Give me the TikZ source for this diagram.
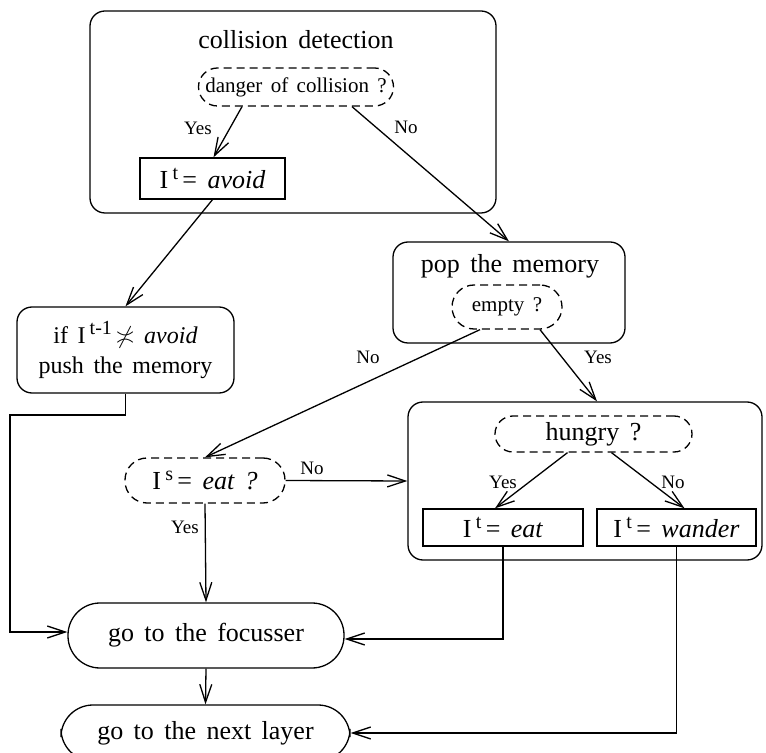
\documentclass[tikz,border=0pt]{standalone}
\usepackage{fontspec}
\setmainfont{Liberation Serif}[WordSpace=1.6]
\usetikzlibrary{arrows.meta}
\newcommand{\upidx}[1]{\,\raisebox{0.8ex}{\fontsize{10}{10}\selectfont #1}\,}

\begin{document}
\begin{tikzpicture}[x=0.5pt,y=-0.5pt,line width=0.65pt,
  >={Straight Barb[length=9pt,width=6pt]},
  every node/.style={inner sep=0pt,font=\fontsize{13}{15}\selectfont},
  group/.style={draw,rounded corners=7.5pt},
  ask/.style={draw,dash pattern=on 4pt off 2.5pt,font=\fontsize{10.5}{12}\selectfont},
  act/.style={draw},
  term/.style={draw,rounded corners=16pt},
  lab/.style={font=\fontsize{9.5}{11}\selectfont}]
\useasboundingbox (0,0) rectangle (766,753);

\node[group,minimum width=203pt,minimum height=101pt] (collbox) at (293,112) {};
\node (colltxt) at (296,40) {collision detection};
\node[ask,rounded corners=9.5pt,minimum width=97.5pt,minimum height=19pt] (danger) at (296,87) {danger of collision ?};
\node[act,minimum width=72.5pt,minimum height=20.5pt] (avoid) at (212.5,178.5) {I\upidx{t}= \textit{avoid}};

\node[group,minimum width=108.5pt,minimum height=43pt,align=center,
  font=\fontsize{12}{15}\selectfont] (push) at (125.5,350)
  {if I\upidx{t-1}$\not\asymp$ \textit{avoid}\\push the memory};

\node[group,minimum width=116pt,minimum height=50.5pt] (popbox) at (509,292.5) {};
\node (poptxt) at (510,266) {pop the memory};
\node[ask,rounded corners=11pt,minimum width=55pt,minimum height=22pt] (empty) at (507,307) {empty ?};

\node[ask,rounded corners=11pt,minimum width=80pt,minimum height=22.5pt,
  font=\fontsize{13}{15}\selectfont] (iseat) at (205,480.5) {I\upidx{s}= \textit{eat ?}};

\node[group,minimum width=177pt,minimum height=79pt] (hungrybox) at (585,481) {};
\node[ask,rounded corners=9pt,minimum width=98.5pt,minimum height=18pt,
  font=\fontsize{13}{15}\selectfont] (hungry) at (593.5,434) {hungry ?};
\node[act,minimum width=80pt,minimum height=18.5pt] (eat) at (503,527.5) {I\upidx{t}= \textit{eat}};
\node[act,minimum width=79.5pt,minimum height=18.5pt] (wander) at (676.5,527.5) {I\upidx{t}= \textit{wander}};

\node[term,minimum width=138pt,minimum height=32.5pt] (focus) at (206,635.5) {go to the focusser};
\node[term,minimum width=144.5pt,minimum height=28pt] (next) at (205.5,733) {go to the next layer};

\coordinate (bend) at (10,415);

\draw[->] ([xshift=-27pt]danger.south) -- ([xshift=0.5pt]avoid.north);
\draw[->] ([xshift=28pt]danger.south) -- (popbox.north);
\draw[->] (avoid.south) -- (push.north);
\draw[->] ([xshift=-13.5pt]empty.south) -- (iseat.north);
\draw[->] ([xshift=16.5pt]empty.south) -- ([xshift=6pt]hungrybox.north);
\draw[->] (iseat.east) -- (hungrybox.west);
\draw[->] (iseat.south) -- (focus.north);
\draw[->] ([xshift=-13pt]hungry.south) -- ([xshift=-4pt]eat.north);
\draw[->] ([xshift=9pt]hungry.south) -- ([xshift=4pt]wander.north);
\draw[->] (eat.south) |- ([yshift=-1.75pt]focus.east);
\draw[->] (wander.south) |- (next.east);
\draw[->] (push.south) |- (bend) |- ([yshift=1.75pt]focus.west);
\draw[->] (focus.south) -- (next.north);

\node[lab] (yes1) at (198,128) {Yes};
\node[lab] (no1) at (406,127) {No};
\node[lab] (no2) at (368,357) {No};
\node[lab] (yes2) at (598,357) {Yes};
\node[lab] (no3) at (312,468) {No};
\node[lab] (yes3) at (185,527) {Yes};
\node[lab] (yes4) at (503,482) {Yes};
\node[lab] (no4) at (673,482) {No};
\end{tikzpicture}
\end{document}
